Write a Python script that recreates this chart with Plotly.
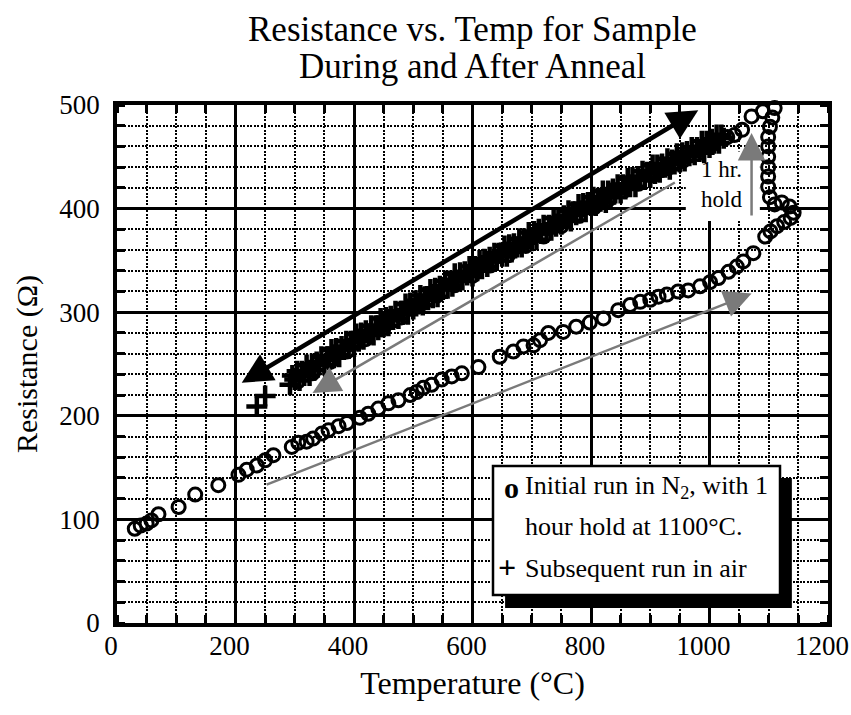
import plotly.graph_objects as go

# ---------------- data ----------------
# Initial run in N2: heating, 1 hr hold, then cooling
T_n2 = [30, 40, 50, 58, 70, 104, 132, 171, 205, 219, 236, 250, 264, 295, 306, 320, 331, 346, 357,
        374, 388, 410, 424, 441, 458, 475, 495, 506, 517, 531, 548, 565, 582, 610, 646, 669, 686,
        703, 714, 728, 753, 775, 798, 821, 846, 866, 883, 900, 914, 928, 947, 964, 984, 1001,
        1015, 1032, 1046, 1057, 1074,
        1094, 1103, 1114, 1126, 1137, 1142, 1135, 1122, 1110, 1102, 1099, 1099, 1099, 1099,
        1099, 1099, 1102, 1106, 1110,
        1090, 1071, 1055, 1042, 1030, 1005, 980, 955, 930, 918, 905, 880, 855, 830, 805, 780,
        750, 720, 690, 660, 630, 600, 570, 540, 510, 480, 450, 420, 388, 360, 330, 305]
R_n2 = [91, 94, 96, 99, 105, 112, 124, 133, 143, 148, 152, 157, 162, 170, 174, 175, 178, 183, 186,
        190, 193, 198, 202, 207, 212, 215, 220, 223, 227, 230, 235, 238, 241, 247, 257, 262, 267,
        268, 273, 280, 281, 286, 290, 294, 302, 307, 310, 312, 315, 317, 320, 321, 325, 329,
        333, 339, 344, 349, 357,
        373, 378, 383, 387, 391, 396, 402, 406, 404, 411, 421, 431, 440, 450,
        460, 469, 479, 488, 497,
        494, 489, 476, 471, 469, 462, 453, 446, 439, 437, 432, 424, 417, 409, 401, 393,
        383, 373, 364, 355, 345, 335, 326, 316, 306, 295, 285, 274, 262, 252, 241, 233]

# Subsequent run in air (up and back down)
T_air = [236, 250,
         292, 300, 308, 316, 325, 333, 341, 350, 358, 366, 375, 383, 391, 400, 408, 416, 425, 433,
         441, 450, 458, 466, 475, 483, 491, 500, 508, 516, 525, 533, 541, 550, 558, 566, 575, 583,
         591, 600, 608, 616, 625, 633, 641, 650, 658, 666, 675, 683, 691, 700, 708, 716, 725, 733,
         741, 750, 758, 766, 775, 783, 791, 800, 808, 816, 825, 833, 841, 850, 858, 866, 875, 883,
         891, 900, 908, 916, 925, 933, 941, 950, 958, 966, 975, 983, 991, 1000, 1008, 1016, 1024,
         296, 304, 312, 320, 329, 337, 345, 354, 362, 370, 379, 387, 395, 404, 412, 420, 429, 437,
         445, 454, 462, 470, 479, 487, 495, 504, 512, 520, 529, 537, 545, 554, 562, 570, 579, 587,
         595, 604, 612, 620, 629, 637, 645, 654, 662, 670, 679, 687, 695, 704, 712, 720, 729, 737,
         745, 754, 762, 770, 779, 787, 795, 804, 812, 820, 829, 837, 845, 854, 862, 870, 879, 887,
         895, 904, 912, 920, 929, 937, 945, 954, 962, 970, 979, 987, 995, 1004, 1012, 1020]
R_air = [209, 219,
         230, 235, 234, 239, 239, 244, 249, 249, 254, 256, 257, 264, 265, 267, 272, 274, 279, 278,
         283, 286, 287, 293, 294, 298, 298, 303, 308, 307, 312, 314, 315, 322, 323, 325, 330, 331,
         336, 335, 340, 342, 344, 349, 350, 354, 354, 358, 363, 363, 367, 369, 370, 376, 377, 379,
         383, 385, 390, 388, 394, 396, 397, 403, 403, 407, 406, 411, 415, 415, 419, 421, 421, 428,
         428, 430, 434, 435, 440, 438, 443, 445, 446, 451, 452, 455, 454, 459, 463, 463, 468,
         239, 243, 243, 249, 250, 252, 257, 257, 264, 265, 267, 272, 272, 279, 280, 282, 287, 287,
         294, 295, 296, 301, 301, 308, 309, 311, 316, 315, 322, 323, 325, 330, 330, 337, 338, 339,
         344, 344, 350, 351, 353, 357, 357, 364, 365, 366, 371, 371, 377, 378, 380, 384, 384, 391,
         391, 393, 398, 397, 404, 405, 406, 411, 410, 417, 417, 419, 423, 423, 429, 430, 431, 436,
         435, 442, 442, 443, 448, 447, 453, 454, 455, 459, 459, 465, 465, 467, 471, 471]

# Axis ticks
x_ticks = [0, 200, 400, 600, 800, 1000, 1200]
y_ticks = [0, 100, 200, 300, 400, 500]

# Annotation arrows: (head_x, head_y, tail_x, tail_y)
black_arrow = (981, 495, 208, 231)
gray_heat_arrow = (1071, 318, 250, 133)
gray_cool_arrow = (330, 222, 944, 426)
gray_hold_arrow = (1071, 473, 1071, 392)

SERIF = "Liberation Serif"

fig = go.Figure()

fig.add_trace(go.Scatter(
    x=T_n2, y=R_n2, mode="markers", cliponaxis=False, showlegend=False,
    marker=dict(symbol="circle-open", size=13, color="black", line=dict(width=3, color="black")),
))
fig.add_trace(go.Scatter(
    x=T_air, y=R_air, mode="markers", cliponaxis=False, showlegend=False,
    marker=dict(symbol="cross-thin", size=15, color="black", line=dict(width=4.5, color="black")),
))

tickfont = dict(family=SERIF, size=27, color="black")
axis_common = dict(
    showgrid=True, gridcolor="black", gridwidth=3,
    showline=True, linecolor="black", linewidth=3.5, mirror="ticks",
    ticks="", zeroline=False, tickfont=tickfont, ticklabeloverflow="allow",
    automargin=False,
)

fig.update_xaxes(
    range=[0, 1200], tickvals=x_ticks, ticktext=[str(v) for v in x_ticks],
    minor=dict(dtick=50, tick0=0, showgrid=True, gridcolor="black", gridwidth=2.2,
               griddash="2px,1.5px", ticks="inside", ticklen=8, tickwidth=2.5, tickcolor="black"),
    title=dict(text="Temperature (°C)", font=dict(family=SERIF, size=32, color="black"), standoff=12),
    ticklabelstandoff=-4, ticklabelshift=-6,
    **axis_common,
)
fig.update_yaxes(
    range=[0, 500], tickvals=y_ticks, ticktext=[str(v) for v in y_ticks],
    minor=dict(dtick=20, tick0=0, showgrid=True, gridcolor="black", gridwidth=2.2,
               griddash="2px,1.5px", ticks="inside", ticklen=8, tickwidth=2.5, tickcolor="black"),
    title=dict(text="Resistance (Ω)", font=dict(family=SERIF, size=30, color="black"), standoff=14),
    ticklabelstandoff=8,
    **axis_common,
)

shapes = [
    # white patch behind "1 hr. hold"
    dict(type="rect", xref="x", yref="y", x0=960, x1=1085, y0=388, y1=455,
         fillcolor="white", line=dict(width=0), layer="between"),
    # legend shadow
    dict(type="rect", xref="x", yref="y", x0=655, x1=1139, y0=14.5, y1=140,
         fillcolor="black", line=dict(width=0), layer="above"),
    # legend box
    dict(type="rect", xref="x", yref="y", x0=634.6, x1=1119, y0=27, y1=151.5,
         fillcolor="white", line=dict(width=2.5, color="black"), layer="above"),
]

annos = []
def arrow(spec, color, width, size, both=False):
    hx, hy, tx, ty = spec
    d = dict(x=hx, y=hy, ax=tx, ay=ty, xref="x", yref="y", axref="x", ayref="y",
             text="", showarrow=True, arrowhead=2, arrowsize=size, arrowwidth=width,
             arrowcolor=color, standoff=0, startstandoff=0)
    if both:
        d.update(arrowside="end+start", startarrowhead=2, startarrowsize=size)
    return d

annos.append(arrow(black_arrow, "black", 4.5, 1.35, both=True))
annos.append(arrow(gray_heat_arrow, "#7a7a7a", 2.5, 2.2))
annos.append(arrow(gray_cool_arrow, "#7a7a7a", 2.5, 2.2))
annos.append(arrow(gray_hold_arrow, "#7a7a7a", 2.5, 2.2))

annos.append(dict(x=1020, y=423, xref="x", yref="y", text="1 hr.<br>hold", showarrow=False,
                  font=dict(family=SERIF, size=23, color="black"), align="center"))

legfont = dict(family=SERIF, size=26, color="black")
annos.append(dict(x=685, y=131, xref="x", yref="y", xanchor="left", yanchor="middle", showarrow=False,
                  text="Initial run in N<sub>2</sub>, with 1", font=legfont))
annos.append(dict(x=685, y=92.7, xref="x", yref="y", xanchor="left", yanchor="middle", showarrow=False,
                  text="hour hold at 1100°C.", font=legfont))
annos.append(dict(x=685, y=53, xref="x", yref="y", xanchor="left", yanchor="middle", showarrow=False,
                  text="Subsequent run in air", font=legfont))
annos.append(dict(x=665, y=131, xref="x", yref="y", xanchor="center", yanchor="middle", showarrow=False,
                  text="<b>o</b>", font=dict(family=SERIF, size=30, color="black")))
annos.append(dict(x=658, y=54, xref="x", yref="y", xanchor="center", yanchor="middle", showarrow=False,
                  text="<b>+</b>", font=dict(family=SERIF, size=32, color="black")))

# title as two centred lines above the plot area
title_lines = ["Resistance vs. Temp for Sample", "During and After Anneal"]
title_py = [29, 66]
for line, py in zip(title_lines, title_py):
    annos.append(dict(x=0.5, xref="paper", y=(623 - py) / 518, yref="paper",
                      xanchor="center", yanchor="middle", showarrow=False, text=line,
                      font=dict(family=SERIF, size=35, color="black")))

fig.update_layout(
    width=851, height=715,
    margin=dict(l=117, r=23, t=105, b=92),
    paper_bgcolor="white", plot_bgcolor="white",
    shapes=shapes, annotations=annos,
    showlegend=False,
)

fig.write_html("out.html")
